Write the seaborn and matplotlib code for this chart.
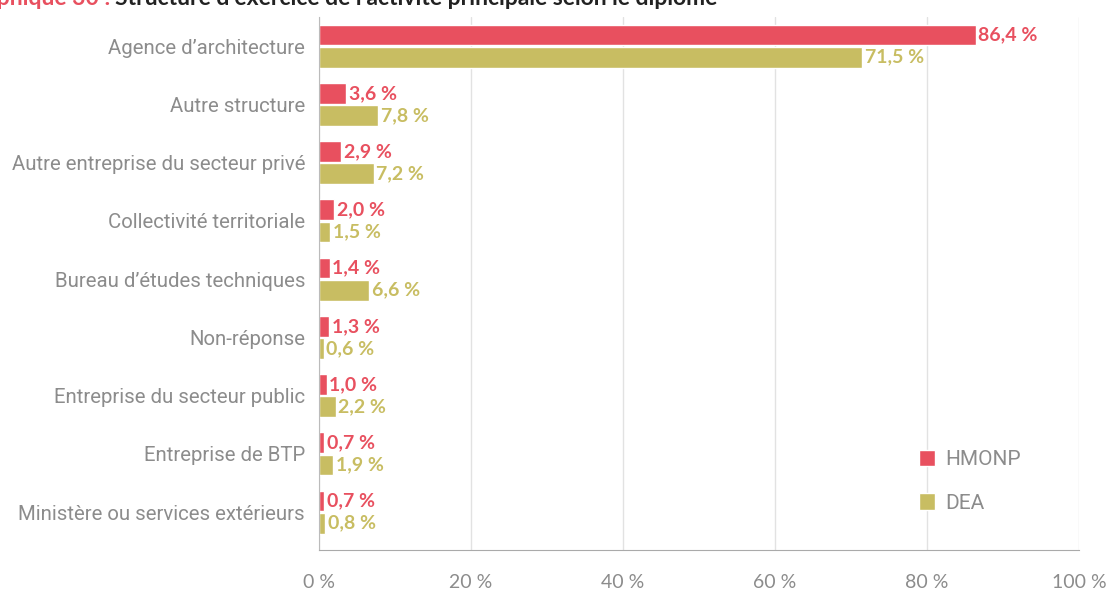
import matplotlib
matplotlib.use("Agg")
import matplotlib.pyplot as plt
from matplotlib import font_manager
import seaborn as sns
import pandas as pd

# data
categories = [
    "Agence d\u2019architecture",
    "Autre structure",
    "Autre entreprise du secteur priv\u00e9",
    "Collectivit\u00e9 territoriale",
    "Bureau d\u2019\u00e9tudes techniques",
    "Non-r\u00e9ponse",
    "Entreprise du secteur public",
    "Entreprise de BTP",
    "Minist\u00e8re ou services ext\u00e9rieurs",
]
hmonp = [86.4, 3.6, 2.9, 2.0, 1.4, 1.3, 1.0, 0.7, 0.7]
dea = [71.5, 7.8, 7.2, 1.5, 6.6, 0.6, 2.2, 1.9, 0.8]
series = ["HMONP", "DEA"]
x_ticks = [0, 20, 40, 60, 80, 100]

red = "#E8505F"
olive = "#C8BD62"
grey = "#8C8C8C"

installed = {f.name for f in font_manager.fontManager.ttflist}
narrow = "Liberation Sans Narrow" if "Liberation Sans Narrow" in installed else "Roboto"

df = pd.DataFrame({
    "cat": categories * 2,
    "val": hmonp + dea,
    "serie": [series[0]] * len(categories) + [series[1]] * len(categories),
})

sns.set_style("white")
plt.rcParams["font.family"] = [narrow, "DejaVu Sans"]

fig = plt.figure(figsize=(11.17, 5.9), dpi=100)
ax = fig.add_axes([319 / 1117, 1 - 550 / 590, 760 / 1117, 533 / 590])

sns.barplot(data=df, y="cat", x="val", hue="serie", orient="h",
            palette=[red, olive], width=0.76, gap=0.06, saturation=1,
            ax=ax, legend=True)

# value labels next to each bar
for cont, vals, col in zip(ax.containers, [hmonp, dea], [red, olive]):
    labels = [f"{v:.1f} %".replace(".", ",") for v in vals]
    ax.bar_label(cont, labels=labels, padding=2, color=col,
                 fontsize=14, fontweight="bold", family="Lato")

ax.set_xlim(0, 100)
ax.set_ylim(8.65, -0.5)
ax.set_xticks(x_ticks)
ax.set_xticklabels([f"{t} %" for t in x_ticks], color=grey, fontsize=14,
                   family="Lato")
ax.tick_params(axis="x", length=7, color="#BBBBBB", width=1, pad=10)
ax.tick_params(axis="y", length=0, labelsize=14.7, labelcolor=grey, pad=10)
ax.grid(axis="x", color="#E2E2E2", lw=1)
ax.set_axisbelow(True)
ax.set_xlabel("")
ax.set_ylabel("")
for s in ["top", "right"]:
    ax.spines[s].set_visible(False)
ax.spines["left"].set_color("#BBBBBB")
ax.spines["bottom"].set_color("#AAAAAA")

leg = ax.legend(loc="lower right", bbox_to_anchor=(0.948, 0.035), frameon=False,
                fontsize=15, handlelength=0.75, handleheight=0.85,
                labelspacing=1.15, handletextpad=0.5)
for t in leg.get_texts():
    t.set_color(grey)

# title, partly cut at the top edge as in the source
fig.text(110 / 1117, 1 - 5 / 590, "Graphique 30 :", color=red, ha="right",
         va="baseline", fontsize=16.5, fontweight="bold", family="Lato")
fig.text(115 / 1117, 1 - 5 / 590,
         "Structure d\u2019exercice de l\u2019activit\u00e9 principale selon le dipl\u00f4me",
         color="#222222", ha="left", va="baseline", fontsize=16.5,
         fontweight="bold", family="Lato")

fig.savefig("out.png", dpi=100)
